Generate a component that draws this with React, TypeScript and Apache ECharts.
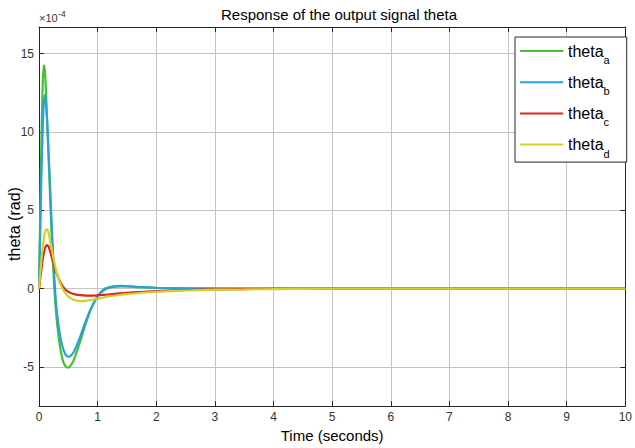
import React, { useEffect, useRef } from "react";
import * as echarts from "echarts";

// Time samples (seconds)
const time = [
  0, 0.02, 0.04, 0.06, 0.08, 0.1, 0.12, 0.14, 0.16, 0.18,
  0.2, 0.22, 0.24, 0.26, 0.28, 0.3, 0.35, 0.4, 0.45, 0.5,
  0.55, 0.6, 0.7, 0.8, 0.9, 1.0, 1.1, 1.2, 1.3, 1.4,
  1.5, 1.7, 2.0, 2.5, 3, 3.5, 4, 5, 6, 7,
  8, 9, 10,
];

// Values in units of 1e-4 rad
const thetaA = [
  0, 4.6, 9.2, 12.6, 14.25, 13.9, 12.5, 10.6, 8.7, 6.8,
  4.9, 3.1, 1.5, 0.1, -1.0, -1.9, -3.5, -4.5, -4.95, -5.05,
  -4.85, -4.5, -3.4, -2.2, -1.2, -0.5, -0.05, 0.1, 0.16, 0.17,
  0.15, 0.1, 0.04, 0.01, 0, 0, 0, 0, 0, 0,
  0, 0, 0,
];
const thetaB = [
  0, 3.5, 7.0, 9.8, 11.7, 12.35, 11.8, 10.6, 9.0, 7.3,
  5.5, 3.8, 2.2, 0.8, -0.4, -1.3, -2.8, -3.7, -4.2, -4.35,
  -4.25, -4.0, -3.1, -2.05, -1.15, -0.5, -0.12, 0.05, 0.12, 0.14,
  0.14, 0.1, 0.05, 0.02, 0.01, 0, 0, 0, 0, 0,
  0, 0, 0,
];
const thetaC = [
  0, 0.6, 1.2, 1.75, 2.2, 2.55, 2.72, 2.77, 2.7, 2.5,
  2.25, 1.97, 1.7, 1.45, 1.2, 0.98, 0.52, 0.17, -0.07, -0.2,
  -0.29, -0.35, -0.42, -0.45, -0.45, -0.43, -0.4, -0.37, -0.33, -0.3,
  -0.27, -0.22, -0.16, -0.09, -0.05, -0.03, -0.02, -0.01, 0, 0,
  0, 0, 0,
];
const thetaD = [
  0, 0.9, 1.75, 2.5, 3.1, 3.55, 3.77, 3.78, 3.6, 3.25,
  2.85, 2.45, 2.05, 1.7, 1.37, 1.07, 0.45, 0.0, -0.3, -0.5,
  -0.63, -0.72, -0.8, -0.78, -0.72, -0.65, -0.57, -0.5, -0.44, -0.39,
  -0.35, -0.28, -0.2, -0.12, -0.07, -0.05, -0.03, -0.01, 0, 0,
  0, 0, 0,
];

const seriesNames = ["a", "b", "c", "d"];
const seriesColors = ["#3fc42c", "#2a9fdb", "#d8281f", "#d0d226"];
const seriesValues = [thetaA, thetaB, thetaC, thetaD];
const yTicks = [-5, 0, 5, 10, 15];

const FONT = "'Liberation Sans', Arial, Helvetica, sans-serif";
const AXIS_COLOR = "#262626";
const GRID_COLOR = "#c4c4c4";

export default function App() {
  const ref = useRef<HTMLDivElement>(null);

  useEffect(() => {
    if (!ref.current) return;
    const chart = echarts.init(ref.current, undefined, { renderer: "svg" });

    const lineSeries = seriesNames.map((n, k) => ({
      name: "theta_" + n,
      type: "line",
      data: time.map((t, i) => [t, seriesValues[k][i]]),
      showSymbol: false,
      symbol: "none",
      smooth: 0.25,
      xAxisIndex: 0,
      yAxisIndex: 0,
      lineStyle: { color: seriesColors[k], width: 2.2 },
      itemStyle: { color: seriesColors[k] },
      z: 3,
    }));

    chart.setOption({
      animation: false,
      backgroundColor: "#ffffff",
      textStyle: { fontFamily: FONT },
      title: {
        text: "Response of the output signal theta",
        left: 216,
        top: 2,
        textStyle: { fontFamily: FONT, fontSize: 15, fontWeight: "normal", color: "#000" },
      },
      grid: { left: 39, right: 5, top: 27, bottom: 36, containLabel: false },
      legend: {
        orient: "vertical",
        left: 515,
        top: 37,
        data: seriesNames.map((n) => "theta_" + n),
        icon: "rect",
        backgroundColor: "#ffffff",
        borderColor: AXIS_COLOR,
        borderWidth: 1,
        borderRadius: 0,
        padding: [6, 17, 3, 5],
        itemWidth: 43,
        itemHeight: 2,
        itemGap: 8.7,
        formatter: (name: string) => "{m|theta}{s|" + name.split("_")[1] + "}",
        textStyle: {
          fontFamily: FONT,
          color: "#000",
          rich: {
            m: { fontSize: 16, fontFamily: FONT, color: "#000" },
            s: { fontSize: 11, fontFamily: FONT, color: "#000", padding: [18, 0, 0, 0] },
          },
        },
      },
      xAxis: [
        {
          type: "value",
          min: 0,
          max: 10,
          interval: 1,
          position: "bottom",
          name: "Time (seconds)",
          nameLocation: "middle",
          nameGap: 19,
          nameTextStyle: { fontFamily: FONT, fontSize: 15, color: "#000" },
          axisLine: { show: true, onZero: false, lineStyle: { color: AXIS_COLOR, width: 1 } },
          axisTick: { show: true, inside: true, length: 5, lineStyle: { color: AXIS_COLOR } },
          axisLabel: { fontFamily: FONT, fontSize: 12, color: "#333", margin: 5 },
          splitLine: { show: true, lineStyle: { color: GRID_COLOR, width: 1 } },
        },
        {
          type: "value",
          min: 0,
          max: 10,
          interval: 1,
          position: "top",
          axisLine: { show: true, onZero: false, lineStyle: { color: AXIS_COLOR, width: 1 } },
          axisTick: { show: true, inside: true, length: 5, lineStyle: { color: AXIS_COLOR } },
          axisLabel: { show: false },
          splitLine: { show: false },
        },
      ],
      yAxis: [
        {
          type: "value",
          min: -7.5,
          max: 16.7,
          position: "left",
          name: "{x|×10}{e|-4}",
          nameLocation: "end",
          nameGap: 1,
          nameTextStyle: {
            align: "left",
            fontFamily: FONT,
            rich: {
              x: { fontSize: 11, fontFamily: FONT, color: "#333" },
              e: { fontSize: 9, fontFamily: FONT, color: "#333", padding: [0, 0, 8, 0] },
            },
          },
          axisLine: { show: true, onZero: false, lineStyle: { color: AXIS_COLOR, width: 1 } },
          axisTick: { show: true, inside: true, length: 5, customValues: yTicks, lineStyle: { color: AXIS_COLOR } },
          axisLabel: { fontFamily: FONT, fontSize: 12, color: "#333", margin: 5, customValues: yTicks },
          splitLine: { show: true, lineStyle: { color: GRID_COLOR, width: 1 } },
        },
        {
          type: "value",
          min: -7.5,
          max: 16.7,
          position: "right",
          axisLine: { show: true, onZero: false, lineStyle: { color: AXIS_COLOR, width: 1 } },
          axisTick: { show: true, inside: true, length: 5, customValues: yTicks, lineStyle: { color: AXIS_COLOR } },
          axisLabel: { show: false },
          splitLine: { show: false },
        },
      ],
      graphic: [
        {
          type: "text",
          left: 6,
          top: "middle",
          rotation: Math.PI / 2,
          style: {
            text: "theta (rad)",
            font: "16px " + FONT,
            fill: "#000",
            align: "center",
            verticalAlign: "middle",
          },
          silent: true,
        },
      ],
      series: lineSeries,
    });

    return () => chart.dispose();
  }, []);

  return (
    <div
      ref={ref}
      style={{ position: "fixed", left: 0, top: 0, width: 635, height: 448 }}
    />
  );
}
